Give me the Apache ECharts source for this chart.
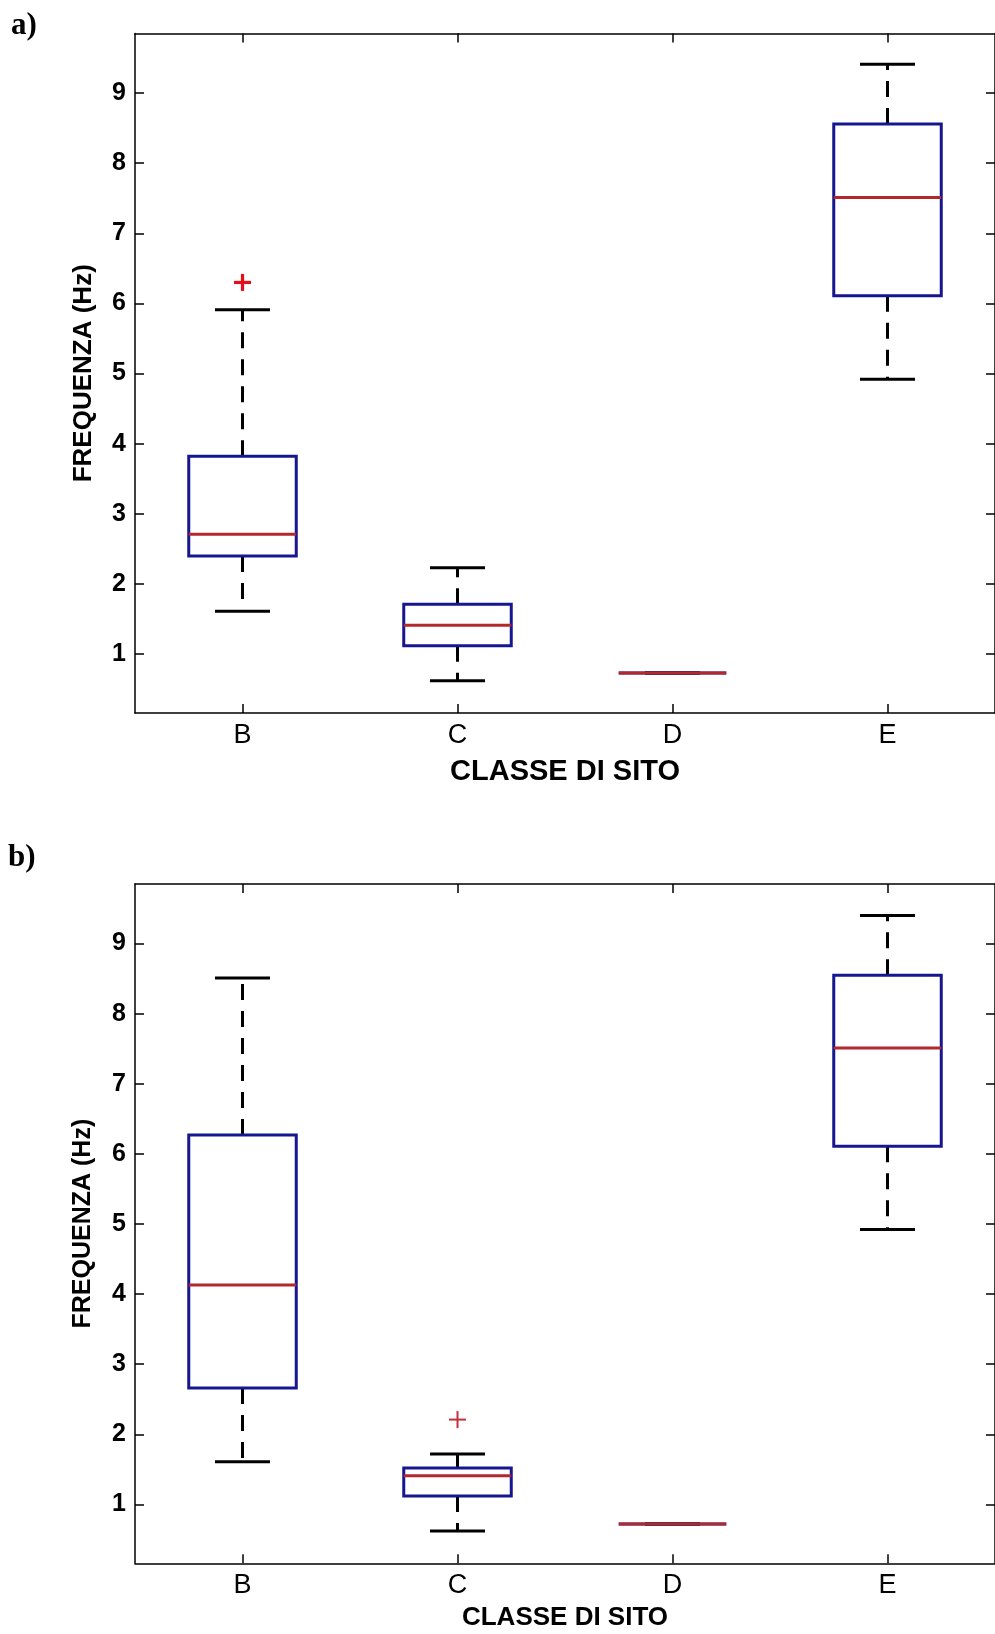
<!DOCTYPE html>
<html>
<head>
<meta charset="utf-8">
<script src="https://cdn.jsdelivr.net/npm/echarts@6/dist/echarts.min.js"></script>
<style>
  html, body { margin: 0; padding: 0; background: #fff; }
  #chart { width: 995px; height: 1634px; }
</style>
</head>
<body>
<div id="chart"></div>
<script>
// ---- data ----
const categories = ['B', 'C', 'D', 'E'];
const yTickValues = [1, 2, 3, 4, 5, 6, 7, 8, 9];

// panel a)
const lowA    = [1.61, 0.62, 0.73, 4.92];
const q1A     = [2.40, 1.12, 0.73, 6.11];
const medianA = [2.71, 1.41, 0.73, 7.51];
const q3A     = [3.82, 1.71, 0.73, 8.56];
const highA   = [5.91, 2.23, 0.73, 9.41];
const outliersA = [['B', 6.30]];

// panel b)
const lowB    = [1.61, 0.62, 0.72, 4.92];
const q1B     = [2.66, 1.12, 0.72, 6.11];
const medianB = [4.13, 1.41, 0.72, 7.51];
const q3B     = [6.27, 1.52, 0.72, 8.55];
const highB   = [8.51, 1.72, 0.72, 9.40];
const outliersB = [['C', 2.21]];

// ---- helpers ----
const FONT = '"Liberation Sans", Arial, Helvetica, sans-serif';
const BOX_COLOR = '#16168f';
const MED_COLOR = '#b3282c';

function boxData(low, q1, med, q3, high) {
  return categories.map((c, i) => [i, low[i], q1[i], med[i], q3[i], high[i]]);
}

function renderBox(params, api) {
  const i = api.value(0);
  const pLow = api.coord([i, api.value(1)]);
  const pQ1 = api.coord([i, api.value(2)]);
  const pMed = api.coord([i, api.value(3)]);
  const pQ3 = api.coord([i, api.value(4)]);
  const pHigh = api.coord([i, api.value(5)]);
  const band = api.size([1, 0])[0];
  const bw = band * 0.5;
  const cw = band * 0.256;
  const x = pMed[0];
  const whiskerStyle = { stroke: '#000', lineWidth: 3, lineDash: [16, 11] };
  const capStyle = { stroke: '#000', lineWidth: 3 };
  const children = [];
  if (pHigh[1] < pQ3[1]) {
    children.push({ type: 'line', shape: { x1: x, y1: pQ3[1], x2: x, y2: pHigh[1] }, style: whiskerStyle });
  }
  if (pLow[1] > pQ1[1]) {
    children.push({ type: 'line', shape: { x1: x, y1: pQ1[1], x2: x, y2: pLow[1] }, style: whiskerStyle });
  }
  children.push({ type: 'line', shape: { x1: x - cw / 2, y1: pHigh[1], x2: x + cw / 2, y2: pHigh[1] }, style: capStyle });
  children.push({ type: 'line', shape: { x1: x - cw / 2, y1: pLow[1], x2: x + cw / 2, y2: pLow[1] }, style: capStyle });
  children.push({
    type: 'rect',
    shape: { x: x - bw / 2, y: pQ3[1], width: bw, height: pQ1[1] - pQ3[1] },
    style: { fill: 'none', stroke: BOX_COLOR, lineWidth: 3 }
  });
  children.push({ type: 'line', shape: { x1: x - bw / 2, y1: pMed[1], x2: x + bw / 2, y2: pMed[1] }, style: { stroke: MED_COLOR, lineWidth: 3 } });
  return { type: 'group', children: children };
}

function makeOutlierRenderer(color, size, width) {
  return function (params, api) {
    const p = api.coord([api.value(0), api.value(1)]);
    const h = size / 2;
    return {
      type: 'group',
      children: [
        { type: 'line', shape: { x1: p[0] - h, y1: p[1], x2: p[0] + h, y2: p[1] }, style: { stroke: color, lineWidth: width } },
        { type: 'line', shape: { x1: p[0], y1: p[1] - h, x2: p[0], y2: p[1] + h }, style: { stroke: color, lineWidth: width } }
      ]
    };
  };
}

const axisLineStyle = { color: '#000', width: 1.5 };
const tickStyle = { color: '#000', width: 1.5 };

function bottomX(gridIndex, nameGap, nameSize) {
  return {
    type: 'category', gridIndex: gridIndex, data: categories, position: 'bottom', boundaryGap: true,
    axisLine: { show: true, lineStyle: axisLineStyle },
    axisTick: { show: true, inside: true, alignWithLabel: true, length: 9, lineStyle: tickStyle },
    axisLabel: { color: '#000', fontSize: 27, fontFamily: FONT, margin: 9 },
    splitLine: { show: false },
    name: 'CLASSE DI SITO', nameLocation: 'middle', nameGap: nameGap,
    nameTextStyle: { color: '#000', fontSize: nameSize, fontWeight: 'bold', fontFamily: FONT }
  };
}
function topX(gridIndex) {
  return {
    type: 'category', gridIndex: gridIndex, data: categories, position: 'top', boundaryGap: true,
    axisLine: { show: true, lineStyle: axisLineStyle },
    axisTick: { show: true, inside: true, alignWithLabel: true, length: 9, lineStyle: tickStyle },
    axisLabel: { show: false }, splitLine: { show: false }
  };
}
function leftY(gridIndex, nameGap, nameSize) {
  return {
    type: 'value', gridIndex: gridIndex, position: 'left', min: 0.16, max: 9.85,
    axisLine: { show: true, lineStyle: axisLineStyle },
    axisTick: { show: true, inside: true, length: 9, lineStyle: tickStyle, customValues: yTickValues },
    axisLabel: { color: '#000', fontSize: 25, fontWeight: 'bold', fontFamily: FONT, margin: 9, customValues: yTickValues },
    splitLine: { show: false },
    name: 'FREQUENZA (Hz)', nameLocation: 'middle', nameGap: nameGap, nameRotate: 90,
    nameTextStyle: { color: '#000', fontSize: nameSize, fontWeight: 'bold', fontFamily: FONT }
  };
}
function rightY(gridIndex) {
  return {
    type: 'value', gridIndex: gridIndex, position: 'right', min: 0.16, max: 9.85,
    axisLine: { show: true, lineStyle: axisLineStyle },
    axisTick: { show: true, inside: true, length: 9, lineStyle: tickStyle, customValues: yTickValues },
    axisLabel: { show: false }, splitLine: { show: false }
  };
}

const option = {
  backgroundColor: '#fff',
  animation: false,
  grid: [
    { left: 135, top: 33.5, width: 861, height: 679.5 },
    { left: 135, top: 884, width: 861, height: 679.3 }
  ],
  xAxis: [bottomX(0, 44, 29), topX(0), bottomX(1, 42, 26), topX(1)],
  yAxis: [leftY(0, 38, 26), rightY(0), leftY(1, 39, 25), rightY(1)],
  graphic: [
    { type: 'text', left: 11, top: 10, style: { text: 'a)', font: 'bold 31px "Liberation Serif", "Times New Roman", serif', fill: '#000' } },
    { type: 'text', left: 8, top: 842, style: { text: 'b)', font: 'bold 31px "Liberation Serif", "Times New Roman", serif', fill: '#000' } }
  ],
  series: [
    {
      type: 'custom', name: 'a', xAxisIndex: 0, yAxisIndex: 0,
      renderItem: renderBox, encode: { x: 0, y: [1, 2, 3, 4, 5] },
      data: boxData(lowA, q1A, medianA, q3A, highA), z: 3
    },
    {
      type: 'custom', name: 'a outliers', xAxisIndex: 0, yAxisIndex: 0,
      renderItem: makeOutlierRenderer('#e3101c', 17, 3.2), encode: { x: 0, y: 1 },
      data: outliersA.map(o => [categories.indexOf(o[0]), o[1]]), z: 4
    },
    {
      type: 'custom', name: 'b', xAxisIndex: 2, yAxisIndex: 2,
      renderItem: renderBox, encode: { x: 0, y: [1, 2, 3, 4, 5] },
      data: boxData(lowB, q1B, medianB, q3B, highB), z: 3
    },
    {
      type: 'custom', name: 'b outliers', xAxisIndex: 2, yAxisIndex: 2,
      renderItem: makeOutlierRenderer('#c4303a', 17, 2), encode: { x: 0, y: 1 },
      data: outliersB.map(o => [categories.indexOf(o[0]), o[1]]), z: 4
    }
  ]
};

const chart = echarts.init(document.getElementById('chart'), null, { renderer: 'canvas' });
chart.setOption(option);
</script>
</body>
</html>
